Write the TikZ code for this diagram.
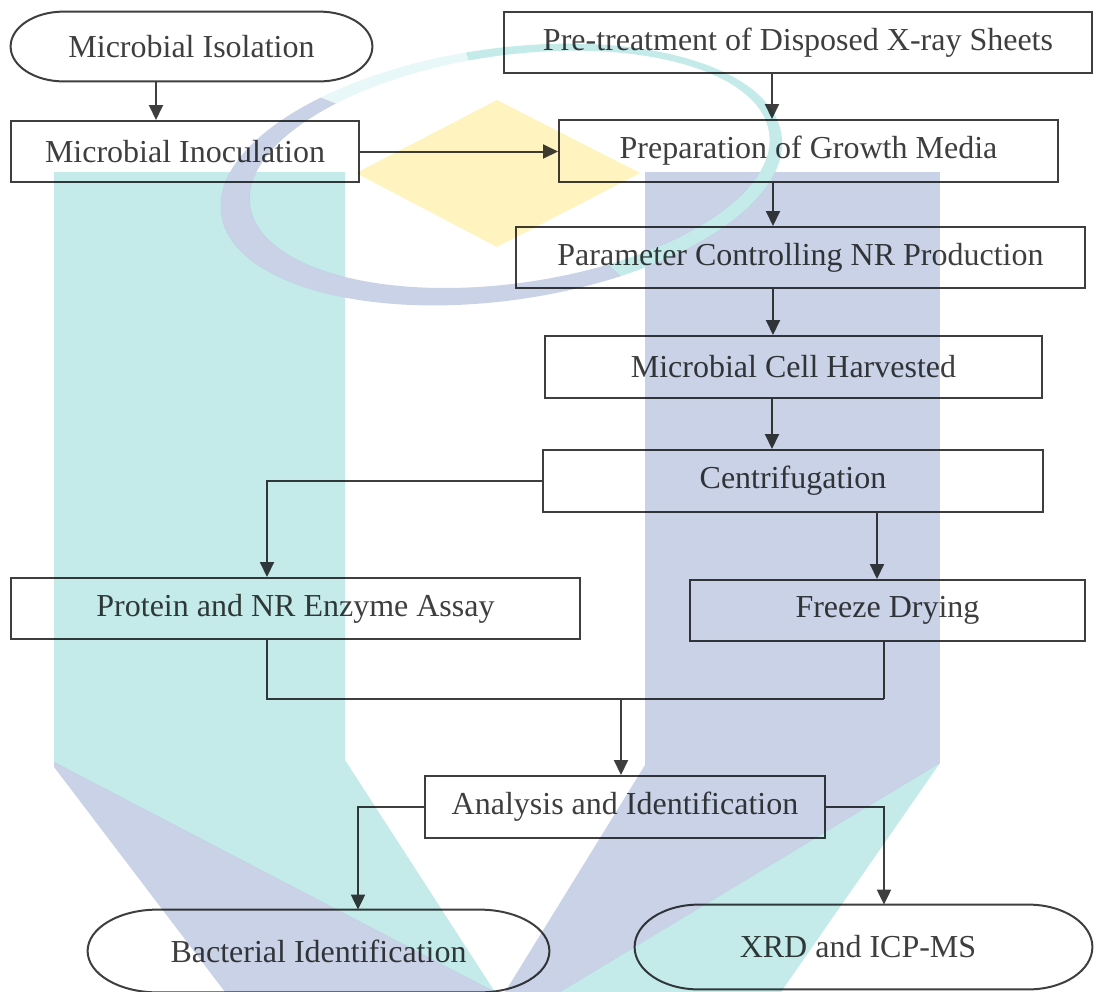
\documentclass[tikz,border=0pt]{standalone}
\usepackage{fontspec}
\setmainfont{Liberation Serif}
\usetikzlibrary{arrows.meta,calc}
\definecolor{wmteal}{RGB}{197,234,234}
\definecolor{wmpurp}{RGB}{201,210,230}
\definecolor{wmyel}{RGB}{255,244,192}
\definecolor{ink}{RGB}{62,62,62}
\newcommand\drawstadium[2]{% node name, end radius (pt)
  \path let \p1=(#1.north), \p2=(#1.south) in
    \pgfextra{\pgfmathsetmacro\stadry{(\y1-\y2)/2}\xdef\stadry{\stadry}};
  \draw[ln] ([xshift=#2]#1.north west) -- ([xshift=-#2]#1.north east)
    arc[start angle=90,end angle=-90,x radius=#2,y radius=\stadry pt]
    -- ([xshift=#2]#1.south west)
    arc[start angle=270,end angle=90,x radius=#2,y radius=\stadry pt] -- cycle;}
\newcommand\ringshape{(501,174) ellipse [x radius=141.5pt,y radius=63pt] (510,170) ellipse [x radius=131pt,y radius=57pt]}
\begin{document}
\begin{tikzpicture}[x=0.5pt,y=-0.5pt,
  box/.style={draw=ink,line width=1pt,rectangle,inner sep=0pt,
    font=\fontsize{16}{19}\selectfont,text=ink},
  stad/.style={rectangle,inner sep=0pt,font=\fontsize{16}{19}\selectfont,text=ink},
  ln/.style={draw=ink,line width=1pt},
  arr/.style={draw=ink,line width=1pt,-{Triangle[length=7.5pt,width=7pt]}},
]
\useasboundingbox (0,0) rectangle (1094,992);

% nodes
\node[stad,minimum width=180.5pt,minimum height=34.5pt] (iso) at (191.5,46.5) {Microbial Isolation};
\node[box,minimum width=294pt,minimum height=30.5pt] (pre) at (798,42.5) {Pre-treatment of Disposed X-ray Sheets};
\node[box,minimum width=174pt,minimum height=30.5pt] (inoc) at (185,151.5) {Microbial Inoculation};
\node[box,minimum width=249.5pt,minimum height=31pt] (prep) at (808.5,151) {Preparation of Growth Media};
\node[box,minimum width=284.5pt,minimum height=30.5pt] (param) at (800.5,257.5) {Parameter Controlling NR Production};
\node[box,minimum width=248.5pt,minimum height=31pt] (harv) at (793.5,367) {Microbial Cell Harvested};
\node[box,minimum width=250pt,minimum height=31pt] (cent) at (793,481) {Centrifugation};
\node[box,minimum width=284.5pt,minimum height=30.5pt] (prot) at (295.5,608.5) {Protein and NR Enzyme Assay};
\node[box,minimum width=197.5pt,minimum height=30.5pt] (freeze) at (887.5,610.5) {Freeze Drying};
\node[box,minimum width=200pt,minimum height=31pt] (ana) at (625,807) {Analysis and Identification};
\node[stad,minimum width=230.5pt,minimum height=41pt] (bact) at (318.5,951) {Bacterial Identification};
\node[stad,minimum width=228.5pt,minimum height=42pt] (xrd) at (863.5,947) {};
\node[stad] (xrdt) at (858,947) {XRD and ICP-MS};
\drawstadium{iso}{26.5pt}
\drawstadium{bact}{35pt}
\drawstadium{xrd}{32pt}

% connector coordinates
\coordinate (c1) at (156,0);
\coordinate (c2) at (772,0);
\coordinate (c3) at (773,0);
\coordinate (c4) at (877,0);
\coordinate (c5) at (267,0);
\coordinate (j) at (884,699);
\coordinate (m) at (621,699);
\coordinate (c6) at (358,0);
\coordinate (c7) at (884,0);

\draw[arr] (iso.south -| c1) -- (inoc.north -| c1);
\draw[arr] (pre.south -| c2) -- (prep.north -| c2);
\draw[arr] (inoc.east) -- (inoc.east -| prep.west);
\draw[arr] (prep.south -| c3) -- (param.north -| c3);
\draw[arr] (param.south -| c3) -- (harv.north -| c3);
\draw[arr] (harv.south -| c2) -- (cent.north -| c2);
\draw[arr] (cent.south -| c4) -- (freeze.north -| c4);
\draw[arr] (cent.west) -| (prot.north -| c5);
\draw[ln] (prot.south -| c5) |- (j);
\draw[ln] (freeze.south -| j) -- (j);
\draw[arr] (m) -- (ana.north -| m);
\draw[arr] (ana.west) -| (bact.north -| c6);
\draw[arr] (ana.east) -| (xrd.north -| c7);

% watermark (multiplied over the drawing)
\begin{scope}[blend mode=multiply]
  \begin{scope}[rotate around={8:(505,172)},even odd rule]
    \clip (-600,-600) rectangle (1700,1600) \ringshape;
    \begin{scope}[rotate around={-8:(505,172)}]
      \fill[wmteal] (54,172) -- (345,172) -- (345,760) -- (495,992) -- (54,762) -- cycle;
      \fill[wmpurp] (54,762) -- (495,992) -- (225,992) -- (54,767) -- cycle;
      \fill[wmpurp] (645,172) -- (940,172) -- (940,763) -- (560,992) -- (505,992) -- (645,765) -- cycle;
      \fill[wmteal] (940,763) -- (781,992) -- (560,992) -- cycle;
      \fill[wmyel] (497,100) -- (640,173) -- (497,247) -- (356,173) -- cycle;
    \end{scope}
  \end{scope}
  \begin{scope}[rotate around={8:(505,172)},even odd rule]
    \begin{scope}
      \clip (505,172) -- ($(505,172)+(100:500pt)$) -- ($(505,172)+(25:500pt)$) -- ($(505,172)+(-50:500pt)$) -- cycle;
      \fill[wmteal] \ringshape;
    \end{scope}
    \begin{scope}
      \clip (505,172) -- ($(505,172)+(100:500pt)$) -- ($(505,172)+(150:500pt)$) -- cycle;
      \fill[wmteal!40] \ringshape;
    \end{scope}
    \begin{scope}
      \clip (505,172) -- ($(505,172)+(150:500pt)$) -- ($(505,172)+(220:500pt)$) -- ($(505,172)+(290:500pt)$) -- ($(505,172)+(310:500pt)$) -- cycle;
      \fill[wmpurp] \ringshape;
    \end{scope}
  \end{scope}
\end{scope}
\end{tikzpicture}
\end{document}
